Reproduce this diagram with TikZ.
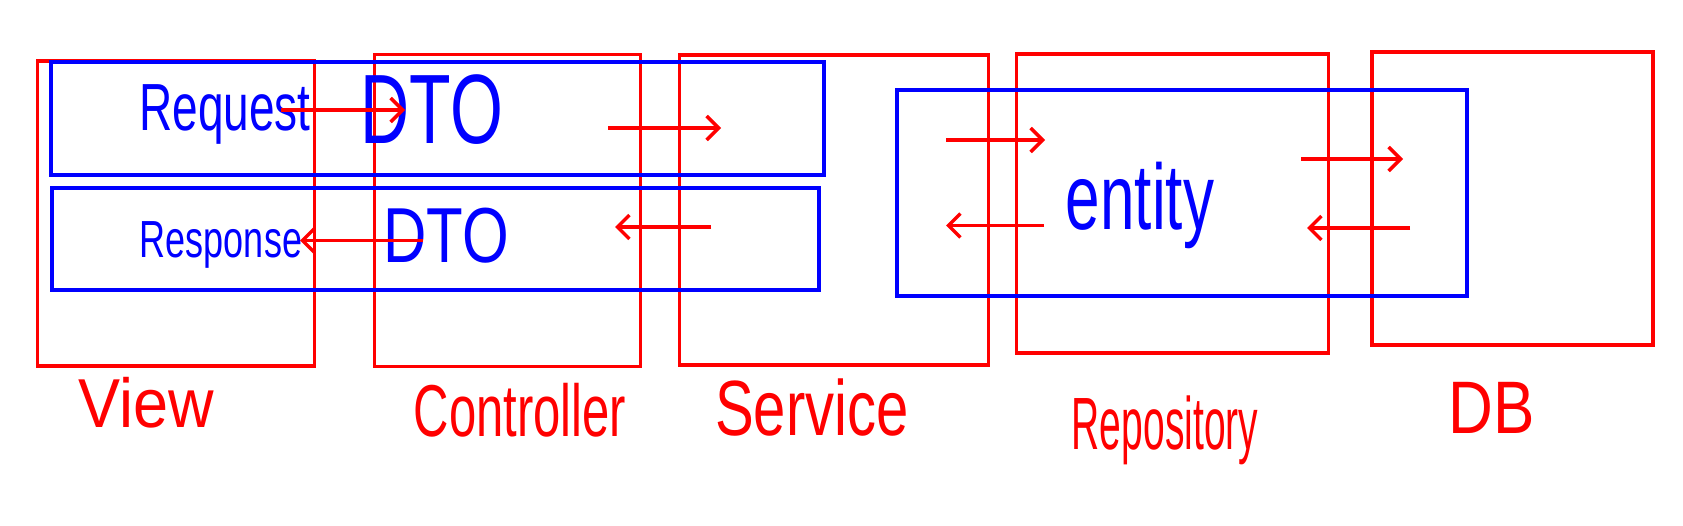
\documentclass[tikz,border=0pt]{standalone}
\usepackage{fontspec}
\setmainfont{Liberation Sans}
\usetikzlibrary{arrows.meta}
\newcommand{\stretched}[2]{\scalebox{1}[#1]{#2}}
\tikzset{
  layerbox/.style={rectangle, draw=red, line width=3.5pt, inner sep=0pt},
  dtobox/.style={rectangle, draw=blue, line width=4pt, inner sep=0pt},
  layertag/.style={text=red, inner sep=0pt, font=\fontsize{#1}{#1}\selectfont},
  dtotag/.style={text=blue, inner sep=0pt, font=\fontsize{#1}{#1}\selectfont},
  flow/.style={draw=red, line width=3.5pt,
    -{Straight Barb[length=12pt, width=24pt, line width=3.5pt]}}
}

\begin{document}
\begin{tikzpicture}[x=1pt, y=-1pt]
\useasboundingbox (0,0) rectangle (1683,526);

%% ── Layers ─────────────────────────────────────────────
\node[layerbox, minimum width=277pt, minimum height=305pt] (view)       at ( 176,213.7) {};
\node[layerbox, minimum width=266pt, minimum height=312pt] (controller) at ( 507.7,210.3) {};
\node[layerbox, minimum width=309pt, minimum height=310pt] (service)    at ( 834,210) {};
\node[layerbox, minimum width=312pt, minimum height=299pt] (repository) at (1172.7,203.7) {};
\node[layerbox, minimum width=281pt, minimum height=293pt] (db)         at (1512.3,198.3) {};

%% ── Data objects ───────────────────────────────────────
\node[dtobox, minimum width=773pt, minimum height=113pt] (request)  at ( 437.3,118.3) {};
\node[dtobox, minimum width=767pt, minimum height=102pt] (response) at ( 435,239.5) {};
\node[dtobox, minimum width=570pt, minimum height=206pt] (entity)   at (1182,193) {};

%% ── Texts ──────────────────────────────────────────────
\node[dtotag=46] (requestname)  at ( 225,114) {\stretched{1.45}{Request}};
\node[dtotag=68] (requestdto)   at ( 432,109.5) {\stretched{1.45}{DTO}};
\node[dtotag=36] (responsename) at ( 221,245) {\stretched{1.45}{Response}};
\node[dtotag=60] (responsedto)  at ( 446,236) {\stretched{1.3}{DTO}};
\node[dtotag=62] (entityname)   at (1140,205) {\stretched{1.5}{entity}};

\node[layertag=63] (viewname)       at ( 146,403) {\stretched{1.1}{View}};
\node[layertag=49] (controllername) at ( 520,410) {\stretched{1.5}{Controller}};
\node[layertag=58] (servicename)    at ( 812,408) {\stretched{1.35}{Service}};
\node[layertag=39] (repositoryname) at (1165,430) {\stretched{1.9}{Repository}};
\node[layertag=62] (dbname)         at (1492,408) {\stretched{1.2}{DB}};

%% ── Flow ───────────────────────────────────────────────
% View -> Controller
\coordinate (reqfrom)  at ( 281,110);   \coordinate (reqto)  at ( 405,110);
\draw[flow] (reqfrom) -- (reqto);
% Controller -> Service
\coordinate (svcfrom)  at ( 608,128);   \coordinate (svcto)  at ( 721,128);
\draw[flow] (svcfrom) -- (svcto);
% Controller -> View
\coordinate (resfrom)  at ( 423,240.5); \coordinate (resto)  at ( 300,240.5);
\draw[flow] (resfrom) -- (resto);
% Service -> Controller
\coordinate (backfrom) at ( 711,227);   \coordinate (backto) at ( 615,227);
\draw[flow] (backfrom) -- (backto);
% Service -> Repository
\coordinate (entfrom)  at ( 946,140);   \coordinate (entto)  at (1045,140);
\draw[flow] (entfrom) -- (entto);
% Repository -> Service
\coordinate (retfrom)  at (1044,225.5); \coordinate (retto)  at ( 946,225.5);
\draw[flow] (retfrom) -- (retto);
% Repository -> DB
\coordinate (dbfrom)   at (1301,159);   \coordinate (dbto)   at (1403,159);
\draw[flow] (dbfrom) -- (dbto);
% DB -> Repository
\coordinate (rowfrom)  at (1410,228);   \coordinate (rowto)  at (1307,228);
\draw[flow] (rowfrom) -- (rowto);

\end{tikzpicture}
\end{document}
